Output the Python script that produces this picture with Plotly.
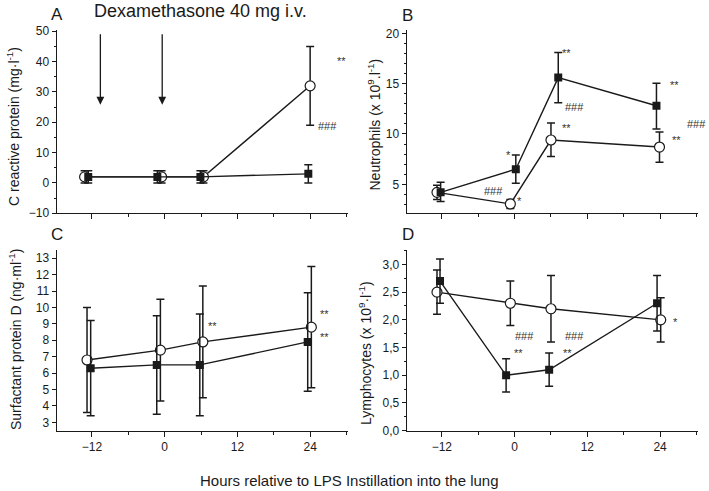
import plotly.graph_objects as go

# time points (hours relative to LPS), slightly offset per series as in the figure
ticks_x = [-12, 0, 12, 24]

# A: C reactive protein (mg/l)
a_x_open = [-13.2, -0.5, 6.4, 24.0]
a_open = [2, 2, 2, 32]
a_open_err = [2, 2, 2, 13]
a_x_fill = [-12.6, -1.2, 5.9, 23.7]
a_fill = [2, 2, 2, 3]
a_fill_err = [2, 2, 2, 3]

# B: neutrophils
b_x_open = [-12.8, -0.7, 6.0, 23.9]
b_open = [4.2, 3.05, 9.4, 8.7]
b_open_hi = [4.9, 3.5, 11.1, 10.2]
b_open_lo = [3.5, 2.6, 7.75, 7.2]
b_x_fill = [-12.2, 0.2, 7.2, 23.4]
b_fill = [4.2, 6.5, 15.6, 12.8]
b_fill_hi = [5.2, 7.9, 18.1, 15.05]
b_fill_lo = [3.3, 5.1, 13.1, 10.5]

# C: surfactant protein D
c_x_open = [-12.8, -0.7, 6.3, 24.2]
c_open = [6.8, 7.4, 7.9, 8.8]
c_open_hi = [10.0, 10.5, 11.3, 12.5]
c_open_lo = [3.6, 4.3, 4.5, 5.1]
c_x_fill = [-12.2, -1.3, 5.8, 23.6]
c_fill = [6.3, 6.5, 6.5, 7.9]
c_fill_hi = [9.2, 9.5, 9.6, 10.9]
c_fill_lo = [3.4, 3.5, 3.4, 4.9]

# D: lymphocytes
d_x_open = [-12.8, -0.7, 6.0, 24.1]
d_open = [2.5, 2.3, 2.2, 2.0]
d_open_hi = [2.9, 2.7, 2.8, 2.4]
d_open_lo = [2.1, 1.9, 1.6, 1.6]
d_x_fill = [-12.3, -1.4, 5.7, 23.5]
d_fill = [2.7, 1.0, 1.1, 2.3]
d_fill_hi = [3.1, 1.3, 1.4, 2.8]
d_fill_lo = [2.3, 0.7, 0.8, 1.8]
d_tickvals = [0, 0.5, 1.0, 1.5, 2.0, 2.5, 3.0]
d_ticktext = ["0,0", "0,5", "1,0", "1,5", "2,0", "2,5", "3,0"]

# significance marks: (panel, text, x, y)
marks = [
    ("A", "**", 29.1, 40.1), ("A", "###", 26.9, 18.9),
    ("B", "*", -1.0, 7.9), ("B", "###", -3.4, 4.3), ("B", "*", 0.8, 3.3),
    ("B", "**", 8.5, 18.0), ("B", "###", 9.8, 12.65), ("B", "**", 8.5, 10.6),
    ("B", "**", 26.4, 14.9), ("B", "###", 30.0, 11.0), ("B", "**", 26.7, 9.4),
    ("C", "**", 7.9, 8.9), ("C", "**", 26.4, 9.6), ("C", "**", 26.4, 8.2),
    ("D", "###", 1.6, 1.7), ("D", "**", 0.7, 1.4), ("D", "###", 9.8, 1.7),
    ("D", "**", 8.8, 1.4), ("D", "*", 26.5, 1.97),
]
arrow_x = [-10.6, -0.4]

ax_ref = {"A": ("x", "y"), "B": ("x2", "y2"), "C": ("x3", "y3"), "D": ("x4", "y4")}
INK = "#1a1a1a"
FONT = "Liberation Sans, Arial, sans-serif"


def add_pair(fig, panel, xo, yo, hi_o, lo_o, xf, yf, hi_f, lo_f):
    xr, yr = ax_ref[panel]
    fig.add_trace(go.Scatter(
        x=xo, y=yo, xaxis=xr, yaxis=yr, mode="lines+markers",
        line=dict(color=INK, width=1.4),
        marker=dict(symbol="circle", size=10, color="white", line=dict(color=INK, width=1.2)),
        error_y=dict(type="data", symmetric=False,
                     array=[h - v for h, v in zip(hi_o, yo)],
                     arrayminus=[v - l for l, v in zip(lo_o, yo)],
                     color=INK, thickness=1.5, width=4),
        showlegend=False))
    fig.add_trace(go.Scatter(
        x=xf, y=yf, xaxis=xr, yaxis=yr, mode="lines+markers",
        line=dict(color=INK, width=1.4),
        marker=dict(symbol="square", size=8, color=INK, line=dict(color=INK, width=0)),
        error_y=dict(type="data", symmetric=False,
                     array=[h - v for h, v in zip(hi_f, yf)],
                     arrayminus=[v - l for l, v in zip(lo_f, yf)],
                     color=INK, thickness=1.5, width=4),
        showlegend=False))


fig = go.Figure()
add_pair(fig, "A", a_x_open, a_open,
         [v + e for v, e in zip(a_open, a_open_err)], [v - e for v, e in zip(a_open, a_open_err)],
         a_x_fill, a_fill,
         [v + e for v, e in zip(a_fill, a_fill_err)], [v - e for v, e in zip(a_fill, a_fill_err)])
add_pair(fig, "B", b_x_open, b_open, b_open_hi, b_open_lo, b_x_fill, b_fill, b_fill_hi, b_fill_lo)
add_pair(fig, "C", c_x_open, c_open, c_open_hi, c_open_lo, c_x_fill, c_fill, c_fill_hi, c_fill_lo)
add_pair(fig, "D", d_x_open, d_open, d_open_hi, d_open_lo, d_x_fill, d_fill, d_fill_hi, d_fill_lo)

x_left = [0.080, 0.4913]
x_right = [0.5736, 0.9849]
y_top = [0.5656, 0.9389]
y_bot = [0.1228, 0.4908]

xcommon = dict(range=[-17.8, 30.3], tickvals=ticks_x, ticks="outside", ticklen=5,
               tickcolor=INK, tickwidth=1, showline=True, linecolor=INK, linewidth=1.2,
               showgrid=False, zeroline=False,
               minor=dict(dtick=6, tick0=0, ticks="outside", ticklen=3, tickcolor=INK, showgrid=False),
               tickfont=dict(size=12, color=INK, family=FONT))
ycommon = dict(ticks="outside", ticklen=4, tickcolor=INK, tickwidth=1, showline=True,
               linecolor=INK, linewidth=1.2, showgrid=False, zeroline=False,
               tickfont=dict(size=12, color=INK, family=FONT))

fig.update_layout(
    width=709, height=491, margin=dict(l=0, r=0, t=0, b=0),
    paper_bgcolor="white", plot_bgcolor="white", template="none",
    font=dict(family=FONT, color=INK),
    xaxis=dict(domain=x_left, anchor="y", showticklabels=False, **xcommon),
    yaxis=dict(domain=y_top, anchor="x", range=[-10, 50.4], dtick=10,
               minor=dict(dtick=5, ticks="outside", ticklen=2, tickcolor=INK, showgrid=False), **ycommon),
    xaxis2=dict(domain=x_right, anchor="y2", showticklabels=False, **xcommon),
    yaxis2=dict(domain=y_top, anchor="x2", range=[2.12, 20.33], tickvals=[5, 10, 15, 20],
                minor=dict(dtick=1, ticks="outside", ticklen=2, tickcolor=INK, showgrid=False), **ycommon),
    xaxis3=dict(domain=x_left, anchor="y3", **xcommon),
    yaxis3=dict(domain=y_bot, anchor="x3", range=[2.49, 13.5], dtick=1, **ycommon),
    xaxis4=dict(domain=x_right, anchor="y4", **xcommon),
    yaxis4=dict(domain=y_bot, anchor="x4", range=[0, 3.26], tickvals=d_tickvals, ticktext=d_ticktext,
                minor=dict(dtick=0.25, ticks="outside", ticklen=2, tickcolor=INK, showgrid=False), **ycommon),
)

annotations = []
for panel, txt, x, y in marks:
    xr, yr = ax_ref[panel]
    annotations.append(dict(text=txt, x=x, y=y, xref=xr, yref=yr, showarrow=False,
                            xanchor="center", yanchor="middle",
                            font=dict(size=11, color="#333333", family=FONT)))

for ax in arrow_x:
    annotations.append(dict(x=ax, y=25.8, ax=ax, ay=49.5, xref="x", yref="y", axref="x", ayref="y",
                            text="", showarrow=True, arrowhead=2, arrowsize=1.2, arrowwidth=1.3,
                            arrowcolor=INK))


def paper_label(txt, px, py, size, angle=0):
    return dict(text=txt, x=px / 709, y=1 - py / 491, xref="paper", yref="paper",
                showarrow=False, xanchor="center", yanchor="middle", textangle=angle,
                font=dict(size=size, color=INK, family=FONT))


# panel letters and titles
for letter, px, py in [("A", 57, 14), ("B", 407, 15), ("C", 57, 234), ("D", 408, 234)]:
    annotations.append(paper_label(letter, px, py, 17))
annotations.append(paper_label("Dexamethasone 40 mg i.v.", 200, 11, 18))
annotations.append(paper_label("Hours relative to LPS Instillation into the lung", 349, 480, 15))

y_titles = [
    ("C reactive protein (mg·l<sup>-1</sup>)", 13, 127),
    ("Neutrophils (x 10<sup>9</sup>.l<sup>-1</sup>)", 375, 124.5),
    ("Surfactant protein D (ng·ml<sup>-1</sup>)", 15, 340),
    ("Lymphocytes (x 10<sup>9</sup>·l<sup>-1</sup>)", 365, 353),
]
for txt, px, py in y_titles:
    annotations.append(paper_label(txt, px, py, 14, -90))

fig.update_layout(annotations=annotations)
fig.write_html("out.html", config={"displayModeBar": False},
               post_script="document.body.style.margin = '0px';")
